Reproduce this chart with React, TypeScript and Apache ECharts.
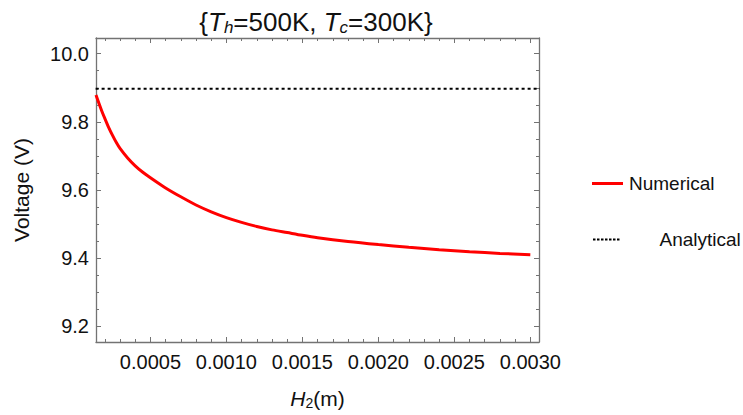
import React, { useEffect, useRef } from "react";
import * as echarts from "echarts";

// Data (H2 in metres, voltage in volts)
const hValues = [
  0.000142, 0.00016, 0.00018, 0.0002, 0.000225, 0.00025, 0.000275, 0.0003, 0.00035,
  0.0004, 0.00045, 0.0005, 0.0006, 0.0007, 0.0008, 0.0009, 0.001, 0.0011, 0.0012,
  0.0013, 0.0014, 0.0015, 0.0016, 0.0018, 0.002, 0.0022, 0.0024, 0.0026, 0.0028, 0.003,
];
const numericalVoltage = [
  9.879, 9.856, 9.832, 9.81, 9.784, 9.761, 9.74, 9.722, 9.694,
  9.671, 9.652, 9.636, 9.606, 9.58, 9.556, 9.536, 9.519, 9.505, 9.493,
  9.483, 9.475, 9.467, 9.46, 9.449, 9.44, 9.432, 9.425, 9.419, 9.414, 9.41,
];
const analyticalX = [0.0001, 0.0031];
const analyticalVoltage = [9.897, 9.897];

const xMajorTicks = [0.0005, 0.001, 0.0015, 0.002, 0.0025, 0.003];
const xMinorTicks = [
  0.0002, 0.0003, 0.0004, 0.0006, 0.0007, 0.0008, 0.0009, 0.0011, 0.0012, 0.0013,
  0.0014, 0.0016, 0.0017, 0.0018, 0.0019, 0.0021, 0.0022, 0.0023, 0.0024, 0.0026,
  0.0027, 0.0028, 0.0029,
];
const yMajorTicks = [9.2, 9.4, 9.6, 9.8, 10.0];
const yMinorTicks = [9.25, 9.3, 9.35, 9.45, 9.5, 9.55, 9.65, 9.7, 9.75, 9.85, 9.9, 9.95];

const X_MIN = 0.000142;
const X_MAX = 0.003057;
const Y_MIN = 9.154;
const Y_MAX = 10.046;

const FONT = "'Liberation Sans', Arial, sans-serif";
const FRAME = "#737373";
const TEXT = "#111";

function dottedIconPath(): string {
  let d = "path://";
  for (let i = 0; i < 7; i++) {
    d += `M${i * 4},0h2.5v2h-2.5z `;
  }
  return d.trim();
}

export default function App() {
  const ref = useRef<HTMLDivElement>(null);

  useEffect(() => {
    document.body.style.margin = "0";
    if (!ref.current) return;
    const chart = echarts.init(ref.current, undefined, { renderer: "svg" });

    const xAxisBase = (position: "bottom" | "top", ticks: number[], len: number, labels: boolean, line: boolean) => ({
      type: "value",
      position,
      min: X_MIN,
      max: X_MAX,
      axisLine: { show: line, onZero: false, lineStyle: { color: FRAME, width: 1.3 } },
      axisTick: { show: true, inside: true, length: len, customValues: ticks, lineStyle: { color: FRAME, width: 1 } },
      axisLabel: labels
        ? {
            show: true,
            customValues: ticks,
            formatter: (v: number) => v.toFixed(4),
            color: TEXT,
            fontFamily: FONT,
            fontSize: 20,
            margin: 10,
          }
        : { show: false },
      splitLine: { show: false },
    });
    const yAxisBase = (position: "left" | "right", ticks: number[], len: number, labels: boolean, line: boolean) => ({
      type: "value",
      position,
      min: Y_MIN,
      max: Y_MAX,
      axisLine: { show: line, onZero: false, lineStyle: { color: FRAME, width: 1.3 } },
      axisTick: { show: true, inside: true, length: len, customValues: ticks, lineStyle: { color: FRAME, width: 1 } },
      axisLabel: labels
        ? {
            show: true,
            customValues: ticks,
            formatter: (v: number) => v.toFixed(1),
            color: TEXT,
            fontFamily: FONT,
            fontSize: 20,
            margin: 7,
          }
        : { show: false },
      splitLine: { show: false },
    });

    const xMain: any = xAxisBase("bottom", xMajorTicks, 5, true, true);
    xMain.name = "{i|H}{s|2}{n|(m)}";
    xMain.nameLocation = "middle";
    xMain.nameGap = 44;
    xMain.nameTextStyle = {
      fontFamily: FONT,
      fontSize: 21,
      color: TEXT,
      rich: {
        i: { fontStyle: "italic", fontSize: 21, fontFamily: FONT, color: TEXT },
        s: { fontSize: 14, fontFamily: FONT, color: TEXT, padding: [10, 0, 0, 0] },
        n: { fontSize: 21, fontFamily: FONT, color: TEXT },
      },
    };

    const yMain: any = yAxisBase("left", yMajorTicks, 5, true, true);
    yMain.name = "Voltage (V)";
    yMain.nameLocation = "middle";
    yMain.nameGap = 64;
    yMain.nameTextStyle = { fontFamily: FONT, fontSize: 21, color: TEXT };

    const option: any = {
      animation: false,
      backgroundColor: "#ffffff",
      title: {
        text: "{" + "{i|T}{s|h}{n|=500K, }{i|T}{s|c}{n|=300K}" + "}",
        left: 311,
        textAlign: "center",
        top: 2,
        textStyle: {
          fontFamily: FONT,
          fontSize: 26,
          fontWeight: "normal",
          color: TEXT,
          rich: {
            i: { fontStyle: "italic", fontSize: 26, fontFamily: FONT, color: TEXT },
            s: { fontStyle: "italic", fontSize: 17, fontFamily: FONT, color: TEXT, padding: [12, 0, 0, 0] },
            n: { fontSize: 26, fontFamily: FONT, color: TEXT },
          },
        },
      },
      grid: { left: 96, right: 204, top: 38, bottom: 66, containLabel: false },
      legend: [
        {
          data: [{ name: "Numerical", icon: "path://M0,0h31v3h-31z" }],
          orient: "vertical",
          left: 587,
          top: 169,
          itemWidth: 31,
          itemHeight: 3,
          textStyle: { fontFamily: FONT, fontSize: 19, color: TEXT, padding: [0, 0, 0, 1] },
        },
        {
          data: [{ name: "Analytical", icon: dottedIconPath() }],
          orient: "vertical",
          left: 588,
          top: 225,
          itemWidth: 26.5,
          itemHeight: 2,
          textStyle: { fontFamily: FONT, fontSize: 19, color: TEXT, padding: [0, 0, 0, 35] },
        },
      ],
      xAxis: [
        xMain,
        xAxisBase("bottom", xMinorTicks, 3, false, false),
        xAxisBase("top", xMajorTicks, 5, false, true),
        xAxisBase("top", xMinorTicks, 3, false, false),
      ],
      yAxis: [
        yMain,
        yAxisBase("left", yMinorTicks, 3, false, false),
        yAxisBase("right", yMajorTicks, 5, false, true),
        yAxisBase("right", yMinorTicks, 3, false, false),
      ],
      series: [
        {
          name: "Numerical",
          type: "line",
          xAxisIndex: 0,
          yAxisIndex: 0,
          data: hValues.map((h, i) => [h, numericalVoltage[i]]),
          smooth: 0.3,
          showSymbol: false,
          symbol: "none",
          clip: true,
          lineStyle: { color: "#ff0000", width: 3 },
          itemStyle: { color: "#ff0000" },
          z: 3,
        },
        {
          name: "Analytical",
          type: "line",
          xAxisIndex: 0,
          yAxisIndex: 0,
          data: analyticalX.map((h, i) => [h, analyticalVoltage[i]]),
          showSymbol: false,
          symbol: "none",
          clip: true,
          lineStyle: { color: "#000000", width: 2, type: [3, 3] },
          itemStyle: { color: "#000000" },
          z: 2,
        },
      ],
    };

    chart.setOption(option);
    return () => chart.dispose();
  }, []);

  return <div ref={ref} style={{ width: 743, height: 415 }} />;
}
